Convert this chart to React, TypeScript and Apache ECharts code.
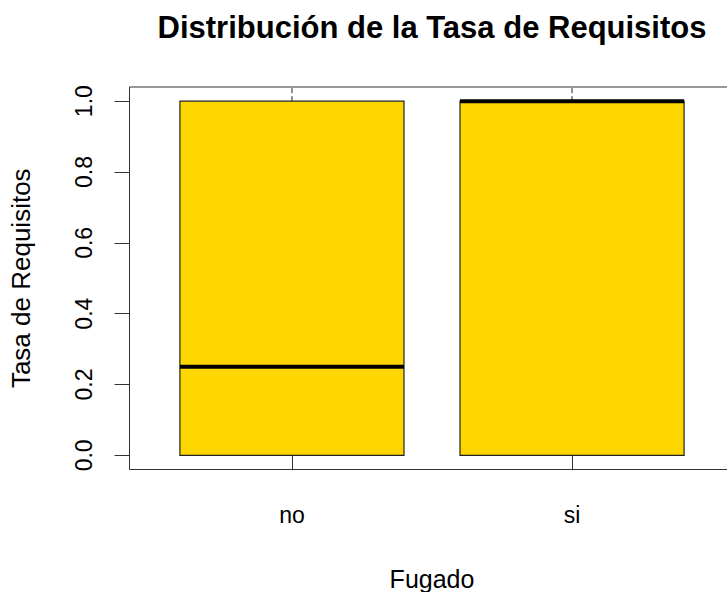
import React, { useEffect, useRef } from "react";
import * as echarts from "echarts";

const categories = ["no", "si"];
const q1Values = [0, 0];
const medianValues = [0.25, 1];
const q3Values = [1, 1];
const whiskerHighValues = [1.1, 1.1];
const yTicks = [0, 0.2, 0.4, 0.6, 0.8, 1.0];

export default function App() {
  const ref = useRef<HTMLDivElement>(null);
  useEffect(() => {
    if (!ref.current) return;
    const chart = echarts.init(ref.current, null, { renderer: "svg" });
    const data = categories.map((c, i) => [i + 1, q1Values[i], medianValues[i], q3Values[i], whiskerHighValues[i]]);
    const font = "Liberation Sans, Arial, sans-serif";
    chart.setOption({
      animation: false,
      backgroundColor: "#ffffff",
      title: {
        text: "Distribución de la Tasa de Requisitos",
        left: 427,
        textAlign: "center",
        top: 7,
        textStyle: { fontFamily: font, fontWeight: "bold", fontSize: 31, color: "#000" },
      },
      grid: {
        left: 129.5,
        top: 87,
        width: 605,
        height: 382.5,
        outerBoundsMode: "none",
        containLabel: false,
        show: true,
        borderColor: "#333",
        borderWidth: 1,
        backgroundColor: "transparent",
      },
      xAxis: {
        type: "value",
        min: 0.42,
        max: 2.58,
        splitLine: { show: false },
        axisLine: { show: false },
        axisTick: { show: true, length: 15, customValues: [1, 2], lineStyle: { color: "#333" } },
        axisLabel: {
          customValues: [1, 2],
          formatter: (v: number) => categories[Math.round(v) - 1] ?? "",
          margin: 34,
          fontSize: 23,
          fontFamily: font,
          color: "#000",
        },
        name: "Fugado",
        nameLocation: "middle",
        nameGap: 97,
        nameTextStyle: { fontSize: 25, fontFamily: font, color: "#000" },
      },
      yAxis: {
        type: "value",
        min: -0.04,
        max: 1.04,
        splitLine: { show: false },
        axisLine: { show: false },
        axisTick: { show: true, length: 15, customValues: yTicks, lineStyle: { color: "#333" } },
        axisLabel: {
          customValues: yTicks,
          rotate: 90,
          formatter: (v: number) => v.toFixed(1),
          margin: 34,
          fontSize: 23,
          fontFamily: font,
          color: "#000",
          align: "center",
          verticalAlign: "bottom",
        },
        name: "Tasa de Requisitos",
        nameLocation: "middle",
        nameRotate: 90,
        nameGap: 96,
        nameTextStyle: { fontSize: 26, fontFamily: font, color: "#000" },
      },
      series: [
        {
          type: "custom",
          clip: true,
          data,
          encode: { x: 0, y: [1, 2, 3, 4] },
          renderItem: (params: any, api: any) => {
            const x = api.value(0);
            const q1 = api.value(1);
            const med = api.value(2);
            const q3 = api.value(3);
            const wh = api.value(4);
            const halfW = api.size([0.8, 0])[0] / 2;
            const pQ1 = api.coord([x, q1]);
            const pQ3 = api.coord([x, q3]);
            const pMed = api.coord([x, med]);
            const pWh = api.coord([x, wh]);
            const coordSys = params.coordSys;
            const topY = Math.max(pWh[1], coordSys.y);
            return {
              type: "group",
              children: [
                {
                  type: "line",
                  shape: { x1: pQ3[0], y1: pQ3[1], x2: pWh[0], y2: topY },
                  style: { stroke: "#222", lineWidth: 1, lineDash: [5, 3] },
                },
                {
                  type: "rect",
                  shape: { x: pQ1[0] - halfW, y: pQ3[1], width: halfW * 2, height: pQ1[1] - pQ3[1] },
                  style: { fill: "#FFD700", stroke: "#222", lineWidth: 1.2 },
                },
                {
                  type: "line",
                  shape: { x1: pMed[0] - halfW, y1: pMed[1], x2: pMed[0] + halfW, y2: pMed[1] },
                  style: { stroke: "#000", lineWidth: 4 },
                },
              ],
            };
          },
        },
      ],
    });
    return () => chart.dispose();
  }, []);
  return <div ref={ref} style={{ position: "fixed", left: 0, top: 0, width: 727, height: 592 }} />;
}
